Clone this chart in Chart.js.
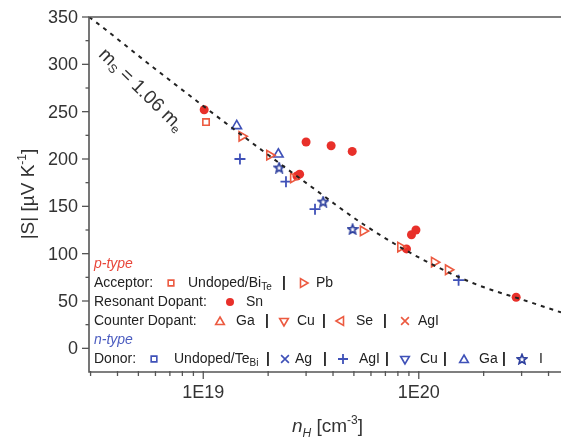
<!DOCTYPE html>
<html>
<head>
<meta charset="utf-8">
<script src="https://cdn.jsdelivr.net/npm/chart.js@4.4.0/dist/chart.umd.min.js"></script>
<style>
  html, body { margin: 0; padding: 0; background: #fff; }
</style>
</head>
<body>
<canvas id="myChart" width="561" height="440"></canvas>
<script>
// n_H [cm^-3] and |S| [uV/K]
var undopedBiN = [1.03e19];
var undopedBiS = [239];
var pbN = [1.51e19, 2.03e19, 2.62e19, 5.52e19, 8.23e19, 1.18e20, 1.37e20];
var pbS = [224, 204, 180, 124, 107, 91, 83];
var snN = [1.01e19, 2.72e19, 2.80e19, 3.0e19, 3.92e19, 4.91e19, 8.77e19, 9.25e19, 9.7e19, 2.83e20];
var snS = [252, 182, 184, 218, 214, 208, 105, 120, 125, 54];
var agiN = [1.48e19, 2.42e19, 3.3e19, 1.53e20];
var agiS = [200, 176, 147, 72];
var gaN = [1.43e19, 2.23e19];
var gaS = [235, 205];
var iodN = [2.25e19, 3.6e19, 4.93e19];
var iodS = [191, 155, 126];
// Pisarenko curve for m_S = 1.06 m_e
var curveN = [2.95e18, 3.16e18, 5.62e18, 1e19, 1.78e19, 3.16e19, 5.62e19, 1e20, 1.78e20, 3.16e20, 4.57e20];
var curveS = [350, 345, 300, 256, 213, 171, 130, 96, 69, 50, 38];
var yTicks = [0, 50, 100, 150, 200, 250, 300, 350];
var xMajor = [1e19, 1e20];
var xMajorLabels = ['1E19', '1E20'];

var red = '#e8302a', redOpen = '#ec5a40', blue = '#3f51b8', darkBlue = '#2d3f9e';
var FONT = '"Liberation Sans", Arial, sans-serif';

function pts(xs, ys) {
  return xs.map(function (x, i) { return { x: x, y: ys[i] }; });
}

function starCanvas(color) {
  var c = document.createElement('canvas');
  c.width = 12; c.height = 12;
  var g = c.getContext('2d');
  g.beginPath();
  for (var k = 0; k < 10; k++) {
    var r = k % 2 ? 2.2 : 5;
    var a = -Math.PI / 2 + k * Math.PI / 5;
    var px = 6 + r * Math.cos(a), py = 6.5 + r * Math.sin(a);
    if (k) g.lineTo(px, py); else g.moveTo(px, py);
  }
  g.closePath();
  g.strokeStyle = color; g.lineWidth = 1.7; g.stroke();
  return c;
}

var none = 'rgba(0,0,0,0)';
var styles = {
  bi:  { pointStyle: 'rect', radius: 4.5, rotation: 0, borderWidth: 1.6, borderColor: redOpen, backgroundColor: none },
  pb:  { pointStyle: 'triangle', radius: 5.5, rotation: 90, borderWidth: 1.6, borderColor: redOpen, backgroundColor: none },
  sn:  { pointStyle: 'circle', radius: 4.5, rotation: 0, borderWidth: 0, borderColor: red, backgroundColor: red },
  rGa: { pointStyle: 'triangle', radius: 5.5, rotation: 0, borderWidth: 1.6, borderColor: redOpen, backgroundColor: none },
  rCu: { pointStyle: 'triangle', radius: 5.5, rotation: 180, borderWidth: 1.6, borderColor: redOpen, backgroundColor: none },
  se:  { pointStyle: 'triangle', radius: 5.5, rotation: 270, borderWidth: 1.6, borderColor: redOpen, backgroundColor: none },
  rAgI:{ pointStyle: 'crossRot', radius: 6, rotation: 0, borderWidth: 1.6, borderColor: redOpen, backgroundColor: none },
  te:  { pointStyle: 'rect', radius: 4.5, rotation: 0, borderWidth: 1.6, borderColor: blue, backgroundColor: none },
  ag:  { pointStyle: 'crossRot', radius: 6, rotation: 0, borderWidth: 1.6, borderColor: blue, backgroundColor: none },
  agi: { pointStyle: 'cross', radius: 5.5, rotation: 0, borderWidth: 1.8, borderColor: blue, backgroundColor: none },
  bCu: { pointStyle: 'triangle', radius: 5.5, rotation: 180, borderWidth: 1.6, borderColor: blue, backgroundColor: none },
  bGa: { pointStyle: 'triangle', radius: 5.5, rotation: 0, borderWidth: 1.6, borderColor: blue, backgroundColor: none },
  iod: { pointStyle: starCanvas(darkBlue), radius: 5, rotation: 0, borderWidth: 0, borderColor: darkBlue, backgroundColor: none }
};

function ds(data, s) {
  return {
    data: data, pointStyle: s.pointStyle, pointRadius: s.radius, pointRotation: s.rotation,
    borderWidth: s.borderWidth, pointBorderWidth: s.borderWidth,
    borderColor: s.borderColor, backgroundColor: s.backgroundColor,
    pointBorderColor: s.borderColor, pointBackgroundColor: s.backgroundColor
  };
}

function marker(c, s, x, y) {
  c.save();
  c.strokeStyle = s.borderColor; c.fillStyle = s.backgroundColor; c.lineWidth = s.borderWidth;
  Chart.helpers.drawPoint(c, { pointStyle: s.pointStyle, rotation: s.rotation, radius: s.radius - 0.5, borderWidth: s.borderWidth }, x, y);
  c.restore();
}

// draws text pieces one after another: [text, font, dy]
function runs(c, x, y, parts) {
  parts.forEach(function (p) {
    c.font = p[1];
    c.fillText(p[0], x, y + (p[2] || 0));
    x += c.measureText(p[0]).width;
  });
  return x;
}
function runsWidth(c, parts) {
  var w = 0;
  parts.forEach(function (p) { c.font = p[1]; w += c.measureText(p[0]).width; });
  return w;
}

var decor = {
  id: 'decor',
  afterDraw: function (chart) {
    var c = chart.ctx, a = chart.chartArea, xs = chart.scales.x, ys = chart.scales.y;
    c.save();
    c.strokeStyle = '#555'; c.lineWidth = 1.6;
    c.beginPath();
    c.moveTo(a.right, a.top); c.lineTo(a.left, a.top);
    c.lineTo(a.left, a.bottom); c.lineTo(a.right, a.bottom);
    c.stroke();

    // y ticks
    c.lineWidth = 1.3;
    c.fillStyle = '#333'; c.font = '18px ' + FONT;
    c.textAlign = 'right'; c.textBaseline = 'middle';
    yTicks.forEach(function (v) {
      var py = ys.getPixelForValue(v);
      c.beginPath(); c.moveTo(a.left - 7, py); c.lineTo(a.left, py); c.stroke();
      c.fillText(String(v), a.left - 11, py + 1);
      var pm = ys.getPixelForValue(v + 25);
      if (v < 350) { c.beginPath(); c.moveTo(a.left - 3.5, pm); c.lineTo(a.left, pm); c.stroke(); }
    });

    // x ticks (log)
    for (var d = 18; d <= 20; d++) {
      for (var m = 1; m <= 9; m++) {
        var v = m * Math.pow(10, d);
        if (v < xs.min || v > xs.max) continue;
        var px = xs.getPixelForValue(v);
        c.beginPath(); c.moveTo(px, a.bottom - 1); c.lineTo(px, a.bottom + (m === 1 ? 7 : 4)); c.stroke();
      }
    }
    c.textAlign = 'center'; c.textBaseline = 'alphabetic';
    xMajor.forEach(function (v, i) {
      c.fillText(xMajorLabels[i], xs.getPixelForValue(v), 398);
    });

    // axis titles
    c.textAlign = 'left'; c.fillStyle = '#333';
    runs(c, 292, 432, [['n', 'italic 19px ' + FONT], ['H', 'italic 12px ' + FONT, 5],
      [' [cm', '19px ' + FONT], ['-3', '12px ' + FONT, -8], [']', '19px ' + FONT]]);

    var yt = [['|S| [\u00b5V K', '19px ' + FONT], ['-1', '12px ' + FONT, -8], [']', '19px ' + FONT]];
    c.save();
    c.translate(34, 194); c.rotate(-Math.PI / 2);
    runs(c, -runsWidth(c, yt) / 2, 0, yt);
    c.restore();

    // curve label
    var lab = [['m', '19px ' + FONT], ['S', '12px ' + FONT, 5], [' = 1.06 ', '19px ' + FONT],
      ['m', '19px ' + FONT], ['e', '12px ' + FONT, 5]];
    c.save();
    c.translate(141, 90); c.rotate(44 * Math.PI / 180);
    c.textBaseline = 'middle';
    runs(c, -runsWidth(c, lab) / 2, 0, lab);
    c.restore();

    // legend block
    var f = '14px ' + FONT, fs = '10px ' + FONT, fb = 'bold 14px ' + FONT;
    c.textBaseline = 'middle'; c.textAlign = 'left';
    c.fillStyle = '#e8463a';
    runs(c, 94, 264, [['p-type', 'italic ' + f]]);
    c.fillStyle = '#4b5cc0';
    runs(c, 94, 340, [['n-type', 'italic ' + f]]);

    c.fillStyle = '#222';
    function txt(x, y, s) { runs(c, x, y, [[s, f]]); }
    function sep(x, y) { runs(c, x, y, [['|', fb]]); }

    txt(94, 283, 'Acceptor:');
    marker(c, styles.bi, 171, 283);
    runs(c, 188, 283, [['Undoped/Bi', f], ['Te', fs, 4]]);
    sep(282, 283);
    marker(c, styles.pb, 303, 283);
    txt(316, 283, 'Pb');

    txt(94, 302, 'Resonant Dopant:');
    marker(c, styles.sn, 230, 302);
    txt(246, 302, 'Sn');

    txt(94, 321, 'Counter Dopant:');
    marker(c, styles.rGa, 220, 322);
    txt(236, 321, 'Ga');
    sep(265, 321);
    marker(c, styles.rCu, 284, 321);
    txt(297, 321, 'Cu');
    sep(322, 321);
    marker(c, styles.se, 341, 321);
    txt(356, 321, 'Se');
    sep(383, 321);
    marker(c, styles.rAgI, 405, 321);
    txt(418, 321, 'AgI');

    txt(94, 359, 'Donor:');
    marker(c, styles.te, 154, 359);
    runs(c, 174, 359, [['Undoped/Te', f], ['Bi', fs, 4]]);
    sep(266, 359);
    marker(c, styles.ag, 285, 359);
    txt(295, 359, 'Ag');
    sep(323, 359);
    marker(c, styles.agi, 343, 359);
    txt(359, 359, 'AgI');
    sep(385, 359);
    marker(c, styles.bCu, 405, 359);
    txt(420, 359, 'Cu');
    sep(443, 359);
    marker(c, styles.bGa, 464, 360);
    txt(479, 359, 'Ga');
    sep(502, 359);
    marker(c, styles.iod, 522, 359);
    txt(539, 359, 'I');
    c.restore();
  }
};

var ctx = document.getElementById('myChart').getContext('2d');
var myChart = new Chart(ctx, {
  type: 'scatter',
  data: {
    datasets: [
      { type: 'line', data: pts(curveN, curveS), borderColor: '#222', borderWidth: 2,
        borderDash: [4, 5], pointRadius: 0, cubicInterpolationMode: 'monotone', fill: false },
      ds(pts(undopedBiN, undopedBiS), styles.bi),
      ds(pts(pbN, pbS), styles.pb),
      ds(pts(gaN, gaS), styles.bGa),
      ds(pts(agiN, agiS), styles.agi),
      ds(pts(iodN, iodS), styles.iod),
      ds(pts(snN, snS), styles.sn)
    ]
  },
  options: {
    responsive: false,
    animation: false,
    layout: { autoPadding: false, padding: { left: 89, top: 17, right: 0, bottom: 68 } },
    scales: {
      x: { type: 'logarithmic', min: 2.95e18, max: 4.57e20, display: false },
      y: { min: -25, max: 350, display: false }
    },
    plugins: { legend: { display: false }, tooltip: { enabled: false } }
  },
  plugins: [decor]
});
</script>
</body>
</html>
